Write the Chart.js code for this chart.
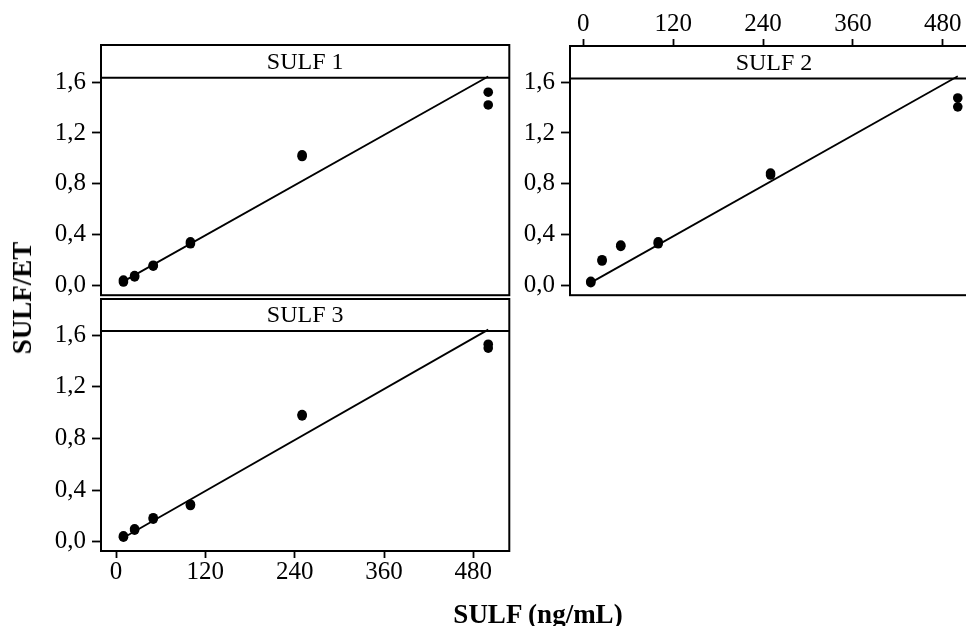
<!DOCTYPE html>
<html>
<head>
<meta charset="utf-8">
<script src="https://cdn.jsdelivr.net/npm/chart.js@4.4.1/dist/chart.umd.min.js"></script>
<style>
  html, body { margin: 0; padding: 0; background: #fff; }
  #wrap { position: relative; width: 966px; height: 626px; overflow: hidden; background: #fff; }
  canvas { position: absolute; }
  .axis-title {
    position: absolute;
    font-family: 'Liberation Serif', 'Times New Roman', serif;
    font-weight: bold;
    font-size: 27px;
    line-height: 30px;
    color: #000;
    white-space: nowrap;
  }
  #xTitle { left: 338px; width: 400px; top: 599px; text-align: center; }
  #yTitle { left: 22px; top: 298px; transform: translate(-50%, -50%) rotate(-90deg); }
</style>
</head>
<body>
<div id="wrap">
  <canvas id="panel1" width="520" height="300" style="left:0;top:0"></canvas>
  <canvas id="panel3" width="520" height="336" style="left:0;top:290px"></canvas>
  <canvas id="panel2" width="520" height="300" style="left:469px;top:0"></canvas>
  <div class="axis-title" id="xTitle">SULF (ng/mL)</div>
  <div class="axis-title" id="yTitle">SULF/ET</div>
</div>
<script>
(function () {
  // concentrations (two replicates each)
  const concentrations = [10, 10, 25, 25, 50, 50, 100, 100, 250, 250, 500, 500];
  const sulf1Values = [0.03, 0.045, 0.07, 0.08, 0.155, 0.162, 0.33, 0.345, 1.015, 1.028, 1.42, 1.52];
  const sulf2Values = [0.025, 0.035, 0.195, 0.205, 0.31, 0.32, 0.33, 0.345, 0.87, 0.885, 1.405, 1.475];
  const sulf3Values = [0.035, 0.045, 0.09, 0.1, 0.175, 0.186, 0.28, 0.29, 0.975, 0.985, 1.5, 1.53];

  // fitted lines: end points of the regression
  const fitX = [10, 500];
  const sulf1Fit = [0.035, 1.643];
  const sulf2Fit = [0.025, 1.645];
  const sulf3Fit = [0.031, 1.643];

  const xTicks = [0, 120, 240, 360, 480];
  const yTicks = [0, 0.4, 0.8, 1.2, 1.6];

  const serif = "'Liberation Serif', 'Times New Roman', serif";
  const black = '#000000';

  const toPoints = (xs, ys) => xs.map((x, i) => ({ x: x, y: ys[i] }));

  // frame + strip with panel name
  const stripPlugin = {
    id: 'strip',
    afterDraw(chart, args, opts) {
      const { ctx, chartArea: a } = chart;
      ctx.save();
      ctx.strokeStyle = black;
      ctx.lineWidth = 2;
      ctx.strokeRect(a.left, a.top, a.right - a.left, a.bottom - a.top);
      ctx.beginPath();
      ctx.moveTo(a.left, a.top + opts.height);
      ctx.lineTo(a.right, a.top + opts.height);
      ctx.stroke();
      ctx.fillStyle = black;
      ctx.font = '24px ' + serif;
      ctx.textAlign = 'center';
      ctx.textBaseline = 'middle';
      ctx.fillText(opts.text, (a.left + a.right) / 2, a.top + opts.height / 2 + 1);
      ctx.restore();
    }
  };

  function makePanel(id, name, values, fit, cfg) {
    const canvas = document.getElementById(id);
    new Chart(canvas, {
      type: 'scatter',
      data: {
        datasets: [{
          data: toPoints(concentrations, values),
          pointRadius: 4.8,
          pointHoverRadius: 4.8,
          pointBackgroundColor: black,
          pointBorderWidth: 0
        }, {
          data: toPoints(fitX, fit),
          showLine: true,
          pointRadius: 0,
          borderColor: black,
          borderWidth: 1.8
        }]
      },
      options: {
        responsive: false,
        animation: false,
        events: [],
        layout: { padding: cfg.padding },
        plugins: {
          legend: { display: false },
          tooltip: { enabled: false },
          strip: { text: name, height: cfg.stripH }
        },
        scales: {
          x: {
            type: 'linear',
            display: cfg.xPos !== null,
            position: cfg.xPos || 'bottom',
            min: cfg.xMin,
            max: cfg.xMax,
            afterBuildTicks: axis => { axis.ticks = xTicks.map(v => ({ value: v })); },
            afterFit: scale => {
              scale.height = cfg.xAxisH;
              scale.paddingLeft = 0;
              scale.paddingRight = 0;
            },
            grid: { drawOnChartArea: false, drawTicks: true, tickLength: 7, tickColor: black, tickWidth: 1.8 },
            border: { display: false },
            ticks: { color: black, font: { family: serif, size: 25, lineHeight: 1 }, padding: 2, maxRotation: 0 }
          },
          y: {
            type: 'linear',
            min: cfg.yMin,
            max: cfg.yMax,
            afterBuildTicks: axis => { axis.ticks = yTicks.map(v => ({ value: v })); },
            afterFit: scale => {
              scale.width = 101;
              scale.paddingTop = 0;
              scale.paddingBottom = 0;
            },
            grid: { drawOnChartArea: false, drawTicks: true, tickLength: 9, tickColor: black, tickWidth: 1.8 },
            border: { display: false },
            ticks: {
              color: black,
              font: { family: serif, size: 25 },
              padding: 6,
              callback: v => Number(v).toFixed(1).replace('.', ',')
            }
          }
        }
      },
      plugins: [stripPlugin]
    });
  }

  if (!window.Chart) return;

  makePanel('panel1', 'SULF 1', sulf1Values, sulf1Fit, {
    padding: { top: 45, bottom: 1.5, right: 10.7, left: 0 },
    xPos: null, xAxisH: 0, stripH: 32.7,
    xMin: -20.15, xMax: 528.3, yMin: -0.0736, yMax: 1.8906
  });

  makePanel('panel2', 'SULF 2', sulf2Values, sulf2Fit, {
    padding: { top: 0, bottom: 1.5, right: 11, left: 0 },
    xPos: 'top', xAxisH: 46, stripH: 32.5,
    xMin: -17.8, xMax: 527, yMin: -0.0736, yMax: 1.8829
  });

  makePanel('panel3', 'SULF 3', sulf3Values, sulf3Fit, {
    padding: { top: 9, bottom: 0, right: 10.7, left: 0 },
    xPos: 'bottom', xAxisH: 75, stripH: 32,
    xMin: -20.15, xMax: 528.3, yMin: -0.0721, yMax: 1.8805
  });
})();
</script>
</body>
</html>
